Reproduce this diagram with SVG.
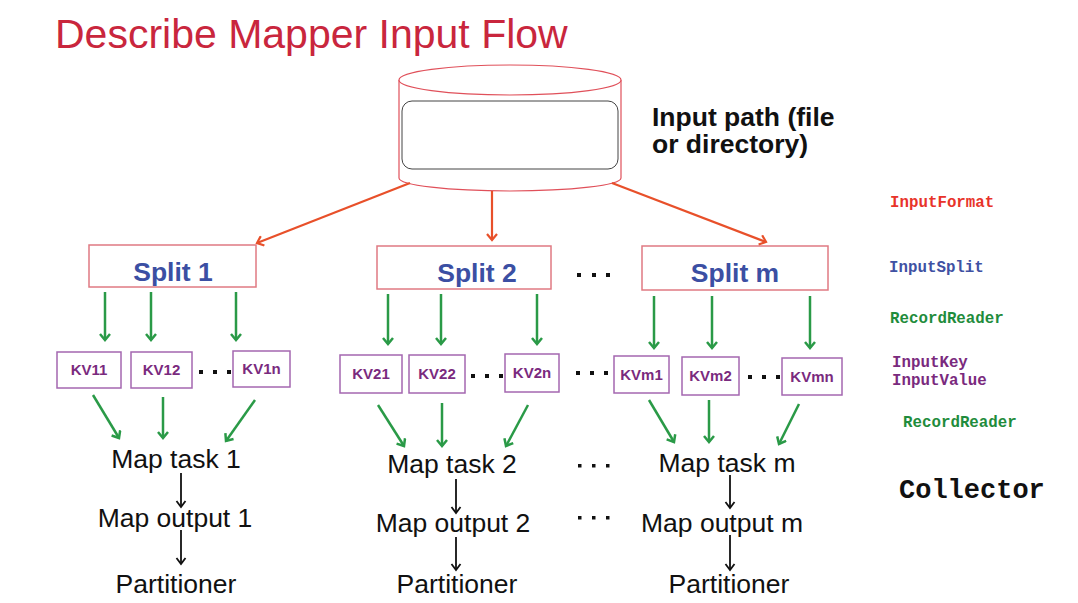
<svg xmlns="http://www.w3.org/2000/svg" width="1078" height="603" viewBox="0 0 1078 603">
<style>
.title{font-family:"Liberation Sans",Arial,sans-serif;font-size:41px;fill:#c9263d}
.path{font-family:"Liberation Sans",Arial,sans-serif;font-size:26.5px;font-weight:bold;fill:#111}
.split{fill:#fff;stroke:#e07a82;stroke-width:1.5}
.splitt{font-family:"Liberation Sans",Arial,sans-serif;font-size:26.5px;font-weight:bold;fill:#3b4fa3;text-anchor:middle}
.kv{fill:#fff;stroke:#a467b0;stroke-width:1.5}
.kvt{font-family:"Liberation Sans",Arial,sans-serif;font-size:15px;font-weight:bold;fill:#7a2a7e;text-anchor:middle}
.task{font-family:"Liberation Sans",Arial,sans-serif;font-size:26.5px;fill:#111;text-anchor:middle}
.mono{font-family:"Liberation Mono","Courier New",monospace;font-size:15.8px;font-weight:bold}
.dot{fill:#111}
.ga{stroke:#2a9a47;stroke-width:2.5;fill:none;marker-end:url(#mg)}
.ra{stroke:#e8502a;stroke-width:2.2;fill:none;marker-end:url(#mr)}
.ba{stroke:#111;stroke-width:1.8;fill:none;marker-end:url(#mb)}
</style>
<defs>
<marker id="mg" viewBox="0 0 12 12" refX="9" refY="6" markerWidth="12" markerHeight="12" markerUnits="userSpaceOnUse" orient="auto"><path d="M3,1 L9,6 L3,11" fill="none" stroke="#2a9a47" stroke-width="2.5"/></marker>
<marker id="mr" viewBox="0 0 12 12" refX="9" refY="6" markerWidth="12" markerHeight="12" markerUnits="userSpaceOnUse" orient="auto"><path d="M3,1 L9,6 L3,11" fill="none" stroke="#e8502a" stroke-width="2.2"/></marker>
<marker id="mb" viewBox="0 0 12 12" refX="9" refY="6" markerWidth="12" markerHeight="12" markerUnits="userSpaceOnUse" orient="auto"><path d="M3,1.5 L9,6 L3,10.5" fill="none" stroke="#111" stroke-width="1.8"/></marker>
</defs>
<rect width="1078" height="603" fill="#fff"/>
<text class="title" x="55" y="48">Describe Mapper Input Flow</text>

<g id="input-path">
<path d="M399,80 L399,178 A111,13 0 0 0 621,178 L621,80" fill="#fff" stroke="#e0505a" stroke-width="1.2"/>
<ellipse cx="510" cy="80" rx="111" ry="15" fill="#fff" stroke="#e0505a" stroke-width="1.2"/>
<rect x="402" y="101" width="216" height="68" rx="10" fill="#fff" stroke="#444" stroke-width="1"/>
<text class="path" x="652" y="126">Input path (file</text>
<text class="path" x="652" y="153">or directory)</text>
</g>

<g id="split1"><rect x="89" y="245" width="167" height="42" class="split"/><text class="splitt" x="173" y="281">Split 1</text></g>
<g id="split2"><rect x="377" y="246" width="174" height="43" class="split"/><text class="splitt" x="477" y="282">Split 2</text></g>
<g id="splitm"><rect x="642" y="246" width="186" height="44" class="split"/><text class="splitt" x="735" y="282">Split m</text></g>

<g id="kv11"><rect x="57" y="352" width="64" height="36" class="kv"/><text class="kvt" x="89" y="375">KV11</text></g>
<g id="kv12"><rect x="131" y="352" width="61" height="36" class="kv"/><text class="kvt" x="161.5" y="375">KV12</text></g>
<g id="kv1n"><rect x="233" y="351" width="57" height="36" class="kv"/><text class="kvt" x="261.5" y="374">KV1n</text></g>
<g id="kv21"><rect x="340" y="355" width="62" height="38" class="kv"/><text class="kvt" x="371" y="379">KV21</text></g>
<g id="kv22"><rect x="409" y="355" width="56" height="38" class="kv"/><text class="kvt" x="437" y="379">KV22</text></g>
<g id="kv2n"><rect x="505" y="354" width="54" height="38" class="kv"/><text class="kvt" x="532" y="378">KV2n</text></g>
<g id="kvm1"><rect x="614" y="356" width="55" height="37" class="kv"/><text class="kvt" x="641.5" y="380">KVm1</text></g>
<g id="kvm2"><rect x="682" y="357" width="57" height="38" class="kv"/><text class="kvt" x="710.5" y="381">KVm2</text></g>
<g id="kvmn"><rect x="782" y="358" width="60" height="37" class="kv"/><text class="kvt" x="812" y="382">KVmn</text></g>

<g id="ellipses">
<rect class="dot" x="577" y="273" width="4" height="4"/><rect class="dot" x="592" y="273" width="4" height="4"/><rect class="dot" x="606" y="273" width="4" height="4"/>
<rect class="dot" x="199" y="370" width="4" height="4"/><rect class="dot" x="213" y="370" width="4" height="4"/><rect class="dot" x="227" y="370" width="4" height="4"/>
<rect class="dot" x="471" y="374" width="4" height="4"/><rect class="dot" x="485" y="374" width="4" height="4"/><rect class="dot" x="499" y="374" width="4" height="4"/>
<rect class="dot" x="576" y="371" width="4" height="4"/><rect class="dot" x="590" y="371" width="4" height="4"/><rect class="dot" x="604" y="371" width="4" height="4"/>
<rect class="dot" x="748" y="375" width="4" height="4"/><rect class="dot" x="762" y="375" width="4" height="4"/><rect class="dot" x="776" y="375" width="4" height="4"/>
<rect class="dot" x="578" y="464" width="3.5" height="3.5"/><rect class="dot" x="592" y="464" width="3.5" height="3.5"/><rect class="dot" x="606" y="464" width="3.5" height="3.5"/>
<rect class="dot" x="578" y="516" width="3.5" height="3.5"/><rect class="dot" x="592" y="516" width="3.5" height="3.5"/><rect class="dot" x="606" y="516" width="3.5" height="3.5"/>
</g>

<g id="map1"><text class="task" x="176" y="468">Map task 1</text><text class="task" x="175" y="527">Map output 1</text><text class="task" x="176" y="593">Partitioner</text></g>
<g id="map2"><text class="task" x="452" y="473">Map task 2</text><text class="task" x="453" y="532">Map output 2</text><text class="task" x="457" y="593">Partitioner</text></g>
<g id="mapm"><text class="task" x="727" y="472">Map task m</text><text class="task" x="722" y="532">Map output m</text><text class="task" x="729" y="593">Partitioner</text></g>

<g id="labels">
<text class="mono" x="890" y="207" fill="#e8332a">InputFormat</text>
<text class="mono" x="889" y="272" fill="#3f51a3">InputSplit</text>
<text class="mono" x="890" y="323" fill="#1f8c3c">RecordReader</text>
<text class="mono" x="892" y="367" fill="#7a2a7e">InputKey</text>
<text class="mono" x="892" y="385" fill="#7a2a7e">InputValue</text>
<text class="mono" x="903" y="427" fill="#1f8c3c">RecordReader</text>
<text class="mono" x="899" y="498" fill="#111" style="font-size:27px">Collector</text>
</g>

<g id="connectors">
<line class="ra" x1="410" y1="183" x2="257" y2="243"/>
<line class="ra" x1="492" y1="191" x2="492" y2="240"/>
<line class="ra" x1="612" y1="183" x2="766" y2="242"/>

<line class="ga" x1="105" y1="292" x2="105" y2="340"/>
<line class="ga" x1="151" y1="292" x2="151" y2="340"/>
<line class="ga" x1="236" y1="292" x2="236" y2="340"/>
<line class="ga" x1="388" y1="294" x2="388" y2="344"/>
<line class="ga" x1="441" y1="294" x2="441" y2="344"/>
<line class="ga" x1="537" y1="294" x2="537" y2="344"/>
<line class="ga" x1="654" y1="296" x2="654" y2="348"/>
<line class="ga" x1="712" y1="296" x2="712" y2="348"/>
<line class="ga" x1="810" y1="296" x2="810" y2="348"/>

<line class="ga" x1="93" y1="395" x2="119" y2="438"/>
<line class="ga" x1="163" y1="397" x2="163" y2="438"/>
<line class="ga" x1="255" y1="400" x2="226" y2="441"/>
<line class="ga" x1="378" y1="405" x2="404" y2="446"/>
<line class="ga" x1="442" y1="403" x2="442" y2="446"/>
<line class="ga" x1="528" y1="405" x2="506" y2="446"/>
<line class="ga" x1="649" y1="400" x2="674" y2="442"/>
<line class="ga" x1="709" y1="400" x2="709" y2="442"/>
<line class="ga" x1="799" y1="404" x2="779" y2="444"/>

<line class="ba" x1="181" y1="473" x2="181" y2="507"/>
<line class="ba" x1="181" y1="530" x2="181" y2="564"/>
<line class="ba" x1="456" y1="479" x2="456" y2="513"/>
<line class="ba" x1="456" y1="537" x2="456" y2="570"/>
<line class="ba" x1="730" y1="475" x2="730" y2="508"/>
<line class="ba" x1="730" y1="535" x2="730" y2="570"/>
</g>
</svg>
